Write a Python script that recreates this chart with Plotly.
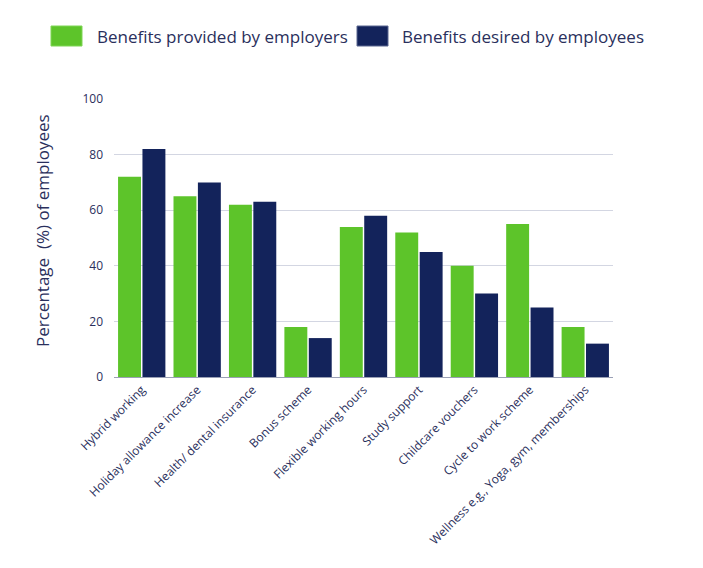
import plotly.graph_objects as go

categories = ["Hybrid working", "Holiday allowance increase", "Health/ dental insurance",
              "Bonus scheme", "Flexible working hours", "Study support",
              "Childcare vouchers", "Cycle to work scheme",
              "Wellness e.g., Yoga, gym, memberships"]
provided = [72, 65, 62, 18, 54, 52, 40, 55, 18]
desired = [82, 70, 63, 14, 58, 45, 30, 25, 12]
series_names = ["Benefits provided by employers", "Benefits desired by employees"]
y_ticks = [0, 20, 40, 60, 80, 100]
y_title = "Percentage  (%) of employees"

GREEN = "#5DC42A"
NAVY = "#13235B"
TEXT = "#2a2f5c"
FONT = "Open Sans"

W, H = 703, 568
ML, MR, MT, MB = 114, 90, 99, 191
PW, PH = W - ML - MR, H - MT - MB


def px_x(px):
    return (px - ML) / PW


def px_y(py):
    return (H - MB - py) / PH


fig = go.Figure()
fig.add_trace(go.Bar(x=categories, y=provided, name=series_names[0], showlegend=False,
                     marker=dict(color=GREEN, line=dict(width=0))))
fig.add_trace(go.Bar(x=categories, y=desired, name=series_names[1], showlegend=False,
                     marker=dict(color=NAVY, line=dict(width=0))))

# custom legend (swatches + labels) above the plot
legend_items = [(series_names[0], GREEN, "#7fd655", 51, 95),
                (series_names[1], NAVY, "#5a6690", 357, 400)]
for name, fill, edge, sx, tx in legend_items:
    fig.add_shape(type="rect", xref="paper", yref="paper",
                  x0=px_x(sx), x1=px_x(sx + 31), y0=px_y(46), y1=px_y(26),
                  fillcolor=fill, line=dict(color=edge, width=1))
    fig.add_annotation(text=name, xref="paper", yref="paper", x=px_x(tx), y=px_y(36),
                       xanchor="left", yanchor="middle", showarrow=False,
                       font=dict(size=17, color=TEXT, family=FONT))

fig.add_annotation(text=y_title, xref="paper", yref="paper", x=px_x(42), y=px_y(231),
                   xanchor="center", yanchor="middle", textangle=-90, showarrow=False,
                   font=dict(size=17, color=TEXT, family=FONT))

fig.update_layout(
    width=W, height=H,
    margin=dict(l=ML, r=MR, t=MT, b=MB, autoexpand=False),
    paper_bgcolor="white", plot_bgcolor="white",
    barmode="group", bargap=0.12, bargroupgap=0.06,
    font=dict(family=FONT, color=TEXT, size=12),
    showlegend=False,
    xaxis=dict(tickangle=-45, tickfont=dict(size=12, color=TEXT), showgrid=False,
               automargin=False,
               showline=True, linecolor="#9aa0b5", linewidth=1, ticks=""),
    yaxis=dict(range=[0, 100], tickvals=y_ticks, showgrid=True, gridcolor="#d3d6e2",
               automargin=False,
               gridwidth=1, zeroline=False, tickfont=dict(size=12, color=TEXT),
               ticklabelstandoff=10),
)

fig.write_html("out.html", config={"displayModeBar": False},
               post_script="document.body.style.margin='0';")
